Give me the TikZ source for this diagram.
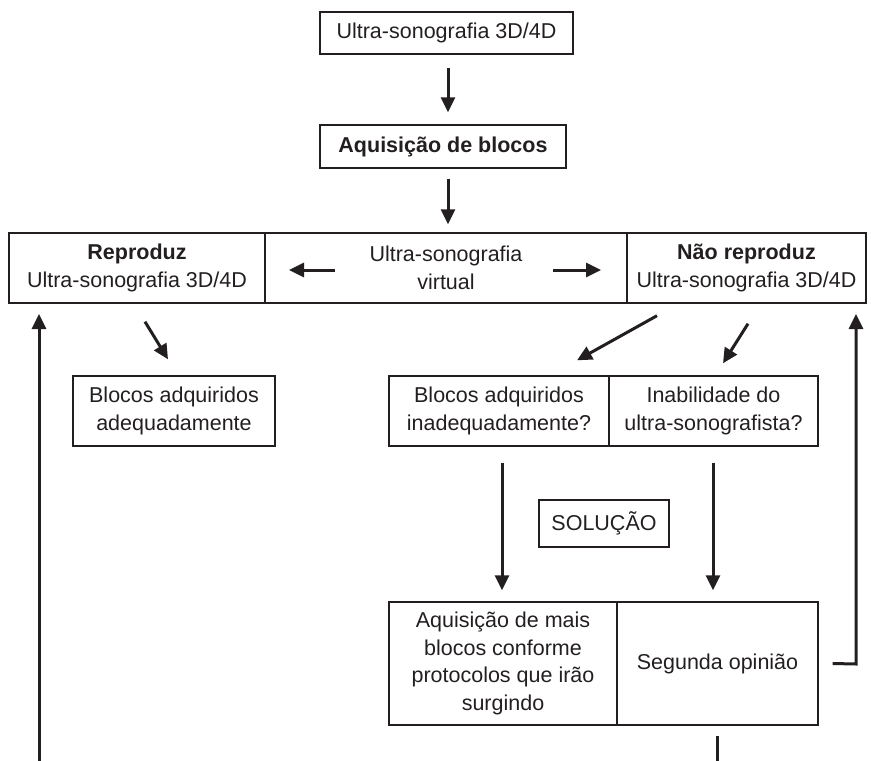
\documentclass[tikz,border=0pt]{standalone}
\usepackage{fontspec}
\setmainfont{Liberation Sans}
\usetikzlibrary{arrows.meta,calc}
\definecolor{ink}{HTML}{231F20}
\begin{document}
\begin{tikzpicture}[x=1pt,y=-1pt,
  every node/.style={text=ink,font=\fontsize{21.5}{27.5}\selectfont},
  box/.style={draw=ink,line width=1.4pt,inner sep=0pt,align=center},
  arr/.style={draw=ink,line width=3pt,line join=miter,-{Triangle[length=15pt,width=14pt]}},
  ln/.style={draw=ink,line width=3pt}]
\useasboundingbox (0,0) rectangle (871,761);
% top
\node[box,minimum width=253pt,minimum height=42pt] (top) at (446.5,33) {Ultra-sonografia 3D/4D};
\node[box,minimum width=246pt,minimum height=43pt] (acq) at (443,146.5) {\bfseries Aquisição de blocos};
% big row
\node[box,minimum width=256pt,minimum height=70pt] (rep) at (137,268) {\bfseries Reproduz\\Ultra-sonografia 3D/4D};
\node[box,minimum width=362pt,minimum height=70pt] (mid) at (446,268) {Ultra-sonografia\\virtual};
\node[box,minimum width=239pt,minimum height=70pt] (nrep) at (746.5,268) {\bfseries Não reproduz\\Ultra-sonografia 3D/4D};
% second row
\node[box,minimum width=202pt,minimum height=70pt] (adeq) at (174,411) {Blocos adquiridos\\adequadamente};
\node[box,minimum width=220pt,minimum height=70pt] (inad) at (499,411) {Blocos adquiridos\\inadequadamente?};
\node[box,minimum width=209pt,minimum height=70pt] (inab) at (713.5,411) {Inabilidade do\\ultra-sonografista?};
\node[box,minimum width=130pt,minimum height=47pt] (sol) at (604,523.5) {SOLUÇÃO};
% bottom row
\node[box,minimum width=228pt,minimum height=123pt] (aq2) at (503,663.5) {Aquisição de mais\\blocos conforme\\protocolos que irão\\surgindo};
\node[box,minimum width=201pt,minimum height=123pt] (seg) at (717.5,663.5) {Segunda opinião};
% coordinates
\coordinate (lb) at (39,761);
\coordinate (lt) at (39,314);
\coordinate (sb) at (717,761);
\coordinate (st) at (717,736);
\coordinate (rc) at (856,664);
\coordinate (rt) at (856,314);
% arrows
\draw[arr] ($(top.south)+(1.5,13)$) -- ($(acq.north)+(5,-12)$);
\draw[arr] ($(acq.south)+(5,10)$) -- ($(mid.north)+(2,-8)$);
\draw[arr] ($(mid.center)+(-111,2)$) -- ($(mid.center)+(-157,2)$);
\draw[arr] ($(mid.center)+(107,2)$) -- ($(mid.center)+(155,2)$);
\draw[arr] ($(rep.south)+(8,18)$) -- ($(adeq.north)+(-6,-16)$);
\draw[arr] ($(nrep.south)+(-89.5,12)$) -- ($(inad.north)+(78,-15)$);
\draw[arr] ($(nrep.south)+(1.5,20)$) -- ($(inab.north)+(9.5,-12)$);
\draw[arr] ($(inad.south)+(3,16)$) -- ($(aq2.north)+(-1,-11)$);
\draw[arr] ($(inab.south)+(-0.5,16)$) -- ($(seg.north)+(-4.5,-11)$);
\draw[arr] (lb) -- (lt);
\draw[arr] ($(seg.east)+(14,0)$) -- (rc) -- (rt);
\draw[ln] (st) -- (sb);
\end{tikzpicture}
\end{document}
